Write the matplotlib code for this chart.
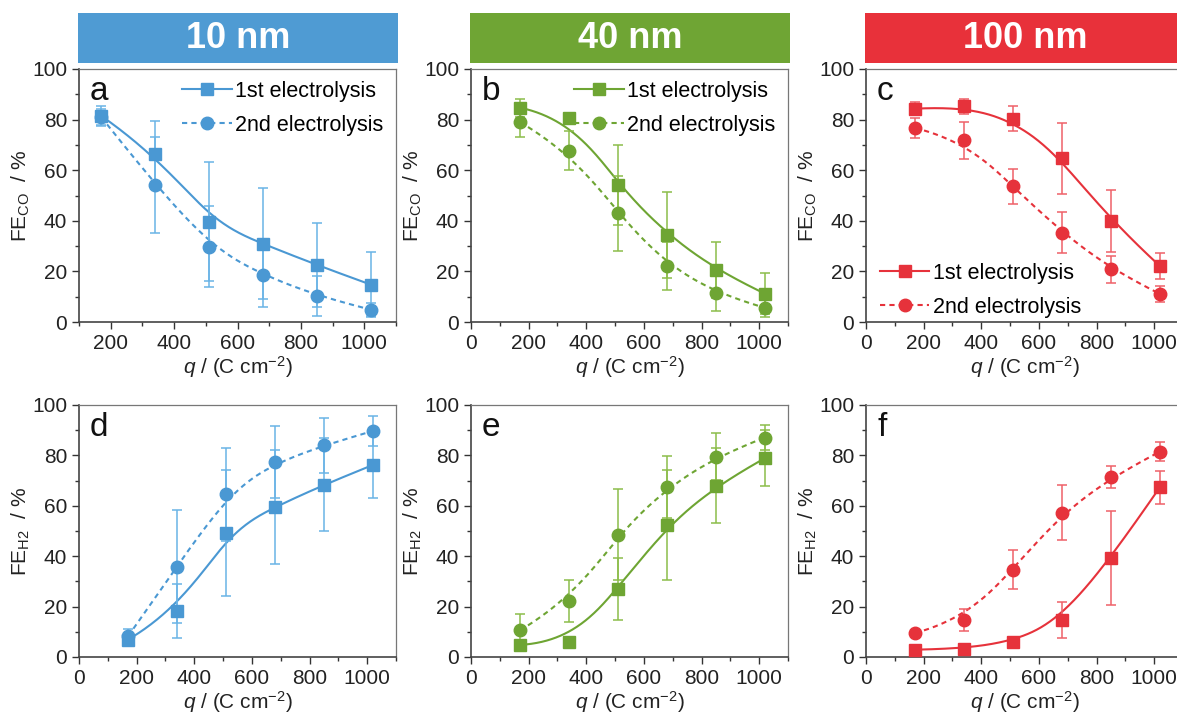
import numpy as np
import matplotlib
matplotlib.use("Agg")
import matplotlib.pyplot as plt
from matplotlib.lines import Line2D
from matplotlib.ticker import MultipleLocator

plt.rcParams['font.family'] = ['Liberation Sans', 'DejaVu Sans']
plt.rcParams['mathtext.fontset'] = 'custom'
plt.rcParams['mathtext.rm'] = 'Liberation Sans'
plt.rcParams['mathtext.it'] = 'Liberation Sans:italic'

# charge passed, C cm^-2
q = [170, 340, 510, 680, 850, 1020]

sizes = ['10 nm', '40 nm', '100 nm']

# FE(CO), 1st / 2nd electrolysis, with error bars
co_1st = [[81.5, 66.6, 39.7, 30.9, 22.5, 14.8],
          [84.7, 80.7, 54.2, 34.4, 20.5, 11.2],
          [84.3, 85.3, 80.3, 64.7, 39.9, 22.1]]
co_1st_err = [[4.0, 13.0, 23.6, 22.0, 16.6, 12.7],
              [3.5, 1.0, 15.8, 17.0, 11.0, 8.0],
              [2.5, 3.0, 5.0, 14.0, 12.2, 5.0]]
co_2nd = [[81.0, 54.3, 29.8, 18.5, 10.3, 4.9],
          [79.0, 67.6, 42.9, 22.2, 11.3, 5.6],
          [76.7, 71.8, 53.6, 35.3, 20.8, 11.1]]
co_2nd_err = [[3.0, 19.0, 16.0, 12.5, 8.0, 2.5],
              [6.0, 7.7, 15.0, 9.5, 7.0, 3.5],
              [4.0, 7.2, 6.9, 8.0, 5.3, 3.3]]

# FE(H2), 1st / 2nd electrolysis, with error bars
h2_1st = [[6.9, 18.2, 49.4, 59.6, 68.4, 76.2],
          [4.8, 5.9, 26.9, 52.4, 68.0, 78.9],
          [2.9, 3.3, 5.8, 14.8, 39.2, 67.4]]
h2_1st_err = [[1.5, 10.7, 25.0, 22.6, 18.4, 13.0],
              [1.0, 1.0, 12.4, 22.0, 15.0, 11.0],
              [0.8, 0.8, 2.2, 7.1, 18.7, 6.6]]
h2_2nd = [[8.2, 35.9, 64.6, 77.3, 84.0, 89.7],
          [10.6, 22.1, 48.6, 67.4, 79.5, 87.1],
          [9.5, 14.8, 34.6, 57.3, 71.3, 81.5]]
h2_2nd_err = [[3.0, 22.6, 18.5, 14.3, 11.0, 5.8],
              [6.5, 8.3, 18.0, 12.4, 9.2, 4.8],
              [1.0, 4.4, 7.7, 11.0, 4.3, 3.7]]

colors = ['#4a98d3', '#6ea533', '#e6323b']
err_colors = ['#6ab4e6', '#8cbd4a', '#ef6168']
bar_colors = ['#4f9bd3', '#6fa534', '#e8313a']
letters = [['a', 'b', 'c'], ['d', 'e', 'f']]


def bspline(x, y, n=300, k=3):
    # clamped cubic B-spline with the points as control polygon
    pts = np.column_stack([x, y]).astype(float)
    m = len(pts)
    knots = np.concatenate([np.zeros(k), np.arange(m - k + 1), np.full(k, m - k)])
    t = np.linspace(0, m - k - 1e-9, n)

    def N(i, p):
        if p == 0:
            return ((knots[i] <= t) & (t < knots[i + 1])).astype(float)
        out = np.zeros_like(t)
        d1 = knots[i + p] - knots[i]
        d2 = knots[i + p + 1] - knots[i + 1]
        if d1 > 0:
            out += (t - knots[i]) / d1 * N(i, p - 1)
        if d2 > 0:
            out += (knots[i + p + 1] - t) / d2 * N(i + 1, p - 1)
        return out

    B = np.array([N(i, k) for i in range(m)])
    curve = B.T @ pts
    return curve[:, 0], curve[:, 1]


W, H = 1177, 715
fig = plt.figure(figsize=(W / 100, H / 100), dpi=100)

lefts = [79, 471, 866]
ax_w = 317
rows = [(69, 322), (405, 657)]

for col in range(3):
    # coloured header bar with particle size
    bx = fig.add_axes([(lefts[col] - 1) / W, (H - 63) / H, (ax_w + 3) / W, 50 / H])
    bx.set_facecolor(bar_colors[col])
    bx.set_xticks([]); bx.set_yticks([])
    for s in bx.spines.values():
        s.set_visible(False)
    bx.text(0.5, 0.5, sizes[col], ha='center', va='center', color='white',
            fontsize=26, fontweight='bold', transform=bx.transAxes)

    for row in range(2):
        top, bot = rows[row]
        ax = fig.add_axes([lefts[col] / W, (H - bot) / H, ax_w / W, (bot - top) / H])
        c, ec = colors[col], err_colors[col]
        if row == 0:
            y1, e1, y2, e2 = co_1st[col], co_1st_err[col], co_2nd[col], co_2nd_err[col]
            ylab = r'FE$_{\mathregular{CO}}$  / %'
        else:
            y1, e1, y2, e2 = h2_1st[col], h2_1st_err[col], h2_2nd[col], h2_2nd_err[col]
            ylab = r'FE$_{\mathregular{H2}}$  / %'

        sx, sy = bspline(q, y1)
        ax.plot(sx, sy, color=c, lw=1.5, zorder=2)
        sx, sy = bspline(q, y2)
        ax.plot(sx, sy, color=c, lw=1.5, ls=(0, (2.5, 2)), zorder=2)
        ax.errorbar(q, y1, yerr=e1, fmt='s', ms=9, color=c, ecolor=ec,
                    elinewidth=1.1, capsize=3.5, capthick=1.1, zorder=3)
        ax.errorbar(q, y2, yerr=e2, fmt='o', ms=9, color=c, ecolor=ec,
                    elinewidth=1.1, capsize=3.5, capthick=1.1, zorder=3)

        if row == 0 and col == 0:
            ax.set_xlim(100, 1100)
        else:
            ax.set_xlim(0, 1100)
        ax.set_ylim(0, 100)
        ax.xaxis.set_major_locator(MultipleLocator(200))
        ax.xaxis.set_minor_locator(MultipleLocator(100))
        ax.yaxis.set_major_locator(MultipleLocator(20))
        ax.yaxis.set_minor_locator(MultipleLocator(10))
        ax.tick_params(which='both', direction='out', top=False, right=False,
                       labelsize=15, colors='#333333', labelcolor='#222222', width=1)
        ax.tick_params(which='major', length=5)
        ax.tick_params(which='minor', length=3)
        for name, s in ax.spines.items():
            s.set_color('#444444' if name in ('left', 'bottom') else '#777777')
            s.set_linewidth(1.2 if name in ('left', 'bottom') else 0.9)

        ax.set_ylabel(ylab, fontsize=15, labelpad=0, color='#222222')
        ax.set_xlabel(r'$q$ / (C cm$^{\mathregular{-2}}$)', fontsize=15, labelpad=1,
                      color='#222222')
        ax.text(0.035, 0.877, letters[row][col], transform=ax.transAxes,
                fontsize=24, ha='left', va='baseline', color='#111111')

        if row == 0:
            handles = [Line2D([], [], color=c, lw=1.5, marker='s', ms=9),
                       Line2D([], [], color=c, lw=1.5, ls=(0, (2.5, 2)), marker='o', ms=9)]
            labels = ['1st electrolysis', '2nd electrolysis']
            opts = dict(frameon=False, fontsize=15.5, handlelength=2.3,
                        handletextpad=0.15, labelspacing=0.6)
            if col < 2:
                ax.legend(handles, labels, loc='upper right', bbox_to_anchor=(1.0, 1.005),
                          borderaxespad=0.2, **opts)
            else:
                ax.legend(handles, labels, loc='lower left', bbox_to_anchor=(0.01, -0.025),
                          borderaxespad=0.1, **opts)

fig.savefig('out.png', dpi=100)
